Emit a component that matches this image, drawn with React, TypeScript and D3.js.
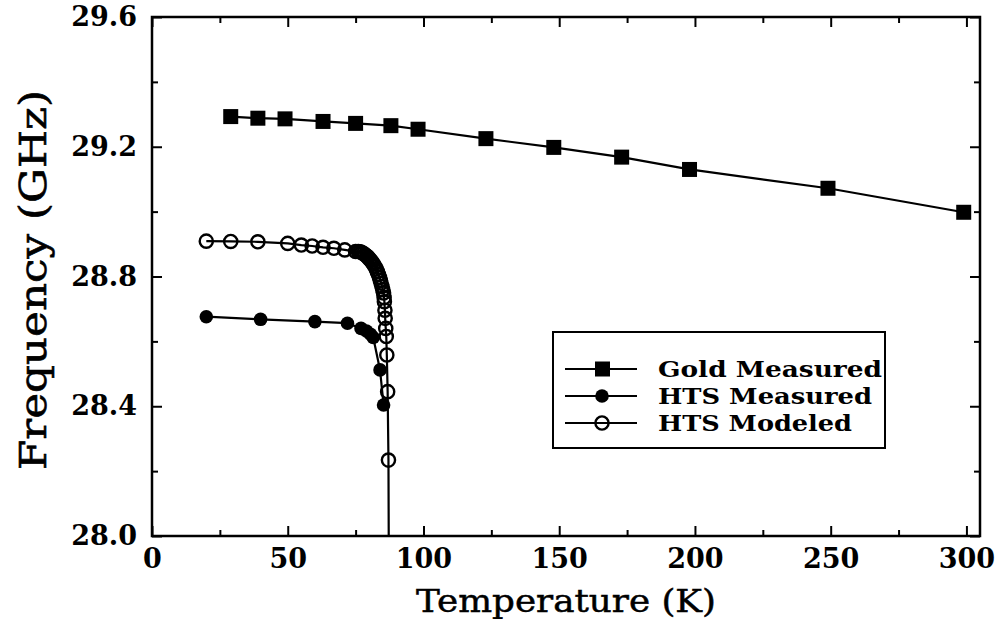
import * as d3 from 'd3';
import { useRef, useEffect } from "react"

// Gold measured
const goldT = [29, 39, 49, 63, 75, 88, 98, 123, 148, 173, 198, 249, 299]
const goldF = [29.293, 29.288, 29.286, 29.278, 29.272, 29.265, 29.254, 29.225, 29.198, 29.168, 29.13, 29.072, 28.998]

// HTS measured
const htsMeasT = [20, 40, 60, 72, 77, 79, 80.5, 81.5, 84, 85.3]
const htsMeasF = [28.676, 28.668, 28.661, 28.656, 28.64, 28.632, 28.622, 28.612, 28.512, 28.404]

// HTS modeled (last point reaches the axis, no marker shown there)
const htsModT = [20, 29, 39, 50, 55, 59, 63, 67, 71, 75,
    76.0, 76.7, 77.3, 77.9, 78.5, 79.1, 79.6, 80.1, 80.6, 81.1, 81.6, 82.1, 82.6, 83.0, 83.4, 83.8, 84.1, 84.4, 84.7, 85.0, 85.3, 85.5,
    85.6, 85.8, 85.9, 86.1, 86.3, 86.5, 86.8, 87.1, 87.2]
const htsModF = [28.909, 28.908, 28.907, 28.902, 28.897, 28.894, 28.89, 28.887, 28.882, 28.877,
    28.877, 28.876, 28.874, 28.871, 28.867, 28.863, 28.859, 28.854, 28.849, 28.844, 28.838, 28.831, 28.823, 28.815, 28.806, 28.797, 28.788, 28.779, 28.769, 28.759, 28.749, 28.735,
    28.722, 28.696, 28.671, 28.64, 28.615, 28.558, 28.445, 28.234, 28.0]

const xMajor = [0, 50, 100, 150, 200, 250, 300]
const xMinor = [25, 75, 125, 175, 225, 275]
const yMajor = [28.0, 28.4, 28.8, 29.2, 29.6]
const yMinor = [28.2, 28.6, 29.0, 29.4]

const legendNames = ["Gold Measured", "HTS Measured", "HTS Modeled"]

function App() {
    const ref = useRef<SVGSVGElement | null>(null)

    useEffect(() => {
        renderChart();
    }, [])

    function renderChart() {
        const svg = d3.select(ref.current!)
        svg.selectAll("*").remove()

        const left = 152, right = 980, top = 17, bottom = 536
        const serif = "'DejaVu Serif', serif"

        const x = d3.scaleLinear().domain([0, 305]).range([left, right])
        const y = d3.scaleLinear().domain([28.0, 29.6]).range([bottom, top])

        // frame
        svg.append("rect")
            .attr("x", left).attr("y", top)
            .attr("width", right - left).attr("height", bottom - top)
            .attr("fill", "none").attr("stroke", "#000").attr("stroke-width", 2.5)

        // axes with inward ticks
        const styleAxis = (g: any) => {
            g.select(".domain").remove()
            g.selectAll(".tick line").attr("stroke", "#000").attr("stroke-width", 2)
            g.selectAll(".tick text")
                .attr("font-family", serif).attr("font-weight", "bold")
                .attr("font-size", 27).attr("fill", "#000")
        }

        svg.append("g").attr("transform", `translate(${left},0)`)
            .call(d3.axisLeft(y).tickValues(yMajor).tickSize(-10).tickPadding(15).tickFormat(d3.format(".1f")))
            .call(styleAxis)
        svg.append("g").attr("transform", `translate(${left},0)`)
            .call(d3.axisLeft(y).tickValues(yMinor).tickSize(-6).tickFormat(() => ""))
            .call(styleAxis)
        svg.append("g").attr("transform", `translate(${right},0)`)
            .call(d3.axisRight(y).tickValues(yMajor).tickSize(-10).tickFormat(() => ""))
            .call(styleAxis)
        svg.append("g").attr("transform", `translate(${right},0)`)
            .call(d3.axisRight(y).tickValues(yMinor).tickSize(-6).tickFormat(() => ""))
            .call(styleAxis)

        svg.append("g").attr("transform", `translate(0,${bottom})`)
            .call(d3.axisBottom(x).tickValues(xMajor).tickSize(-10).tickPadding(13).tickFormat(d3.format("d")))
            .call(styleAxis)
        svg.append("g").attr("transform", `translate(0,${bottom})`)
            .call(d3.axisBottom(x).tickValues(xMinor).tickSize(-6).tickFormat(() => ""))
            .call(styleAxis)
        svg.append("g").attr("transform", `translate(0,${top})`)
            .call(d3.axisTop(x).tickValues(xMajor).tickSize(-10).tickFormat(() => ""))
            .call(styleAxis)
        svg.append("g").attr("transform", `translate(0,${top})`)
            .call(d3.axisTop(x).tickValues(xMinor).tickSize(-6).tickFormat(() => ""))
            .call(styleAxis)

        // axis titles
        svg.append("text")
            .attr("transform", "translate(46,280) rotate(-90)")
            .attr("text-anchor", "middle")
            .attr("font-family", serif).attr("font-size", 38)
            .attr("stroke", "#000").attr("stroke-width", 0.6)
            .attr("textLength", 380).attr("lengthAdjust", "spacingAndGlyphs")
            .text("Frequency (GHz)")
        svg.append("text")
            .attr("x", 566).attr("y", 612)
            .attr("text-anchor", "middle")
            .attr("font-family", serif).attr("font-size", 32)
            .attr("stroke", "#000").attr("stroke-width", 0.5)
            .attr("textLength", 300).attr("lengthAdjust", "spacingAndGlyphs")
            .text("Temperature (K)")

        const line = d3.line<[number, number]>().x(d => x(d[0])).y(d => y(d[1]))
        const zip = (a: number[], b: number[]) => a.map((v, i) => [v, b[i]] as [number, number])

        const gold = zip(goldT, goldF)
        const meas = zip(htsMeasT, htsMeasF)
        const model = zip(htsModT, htsModF)

        const plot = svg.append("g")
        for (const pts of [gold, meas, model]) {
            plot.append("path").attr("d", line(pts)!)
                .attr("fill", "none").attr("stroke", "#000").attr("stroke-width", 2.2)
        }

        plot.selectAll(".gold").data(gold).enter().append("rect")
            .attr("x", d => x(d[0]) - 7.5).attr("y", d => y(d[1]) - 7.5)
            .attr("width", 15).attr("height", 15).attr("fill", "#000")
        plot.selectAll(".meas").data(meas).enter().append("circle")
            .attr("cx", d => x(d[0])).attr("cy", d => y(d[1])).attr("r", 6.8).attr("fill", "#000")
        plot.selectAll(".model").data(model.filter(d => d[1] > 28.0)).enter().append("circle")
            .attr("cx", d => x(d[0])).attr("cy", d => y(d[1])).attr("r", 6.6)
            .attr("fill", "none").attr("stroke", "#000").attr("stroke-width", 2.4)

        // legend
        const lg = svg.append("g")
        lg.append("rect").attr("x", 553).attr("y", 332).attr("width", 332).attr("height", 116)
            .attr("fill", "#fff").attr("stroke", "#000").attr("stroke-width", 2)
        const rows = [369, 396, 423]
        legendNames.forEach((name, i) => {
            const ry = rows[i]
            lg.append("line").attr("x1", 565).attr("x2", 637).attr("y1", ry).attr("y2", ry)
                .attr("stroke", "#000").attr("stroke-width", 2.2)
            if (i === 0) {
                lg.append("rect").attr("x", 595).attr("y", ry - 7.5).attr("width", 15).attr("height", 15).attr("fill", "#000")
            } else if (i === 1) {
                lg.append("circle").attr("cx", 602).attr("cy", ry).attr("r", 6.8).attr("fill", "#000")
            } else {
                lg.append("circle").attr("cx", 602).attr("cy", ry).attr("r", 6.6)
                    .attr("fill", "none").attr("stroke", "#000").attr("stroke-width", 2.4)
            }
            const nameLen = [224, 214, 194][i]
            lg.append("text").attr("x", 658).attr("y", ry + 8)
                .attr("font-family", serif).attr("font-weight", "bold").attr("font-size", 22)
                .attr("textLength", nameLen).attr("lengthAdjust", "spacingAndGlyphs")
                .text(name)
        })
    }

    return (
        <svg
            width={1002}
            height={619}
            ref={ref}
            style={{ position: 'absolute', left: 0, top: 0, background: '#fff' }}
        />
    )
}

export default App;
